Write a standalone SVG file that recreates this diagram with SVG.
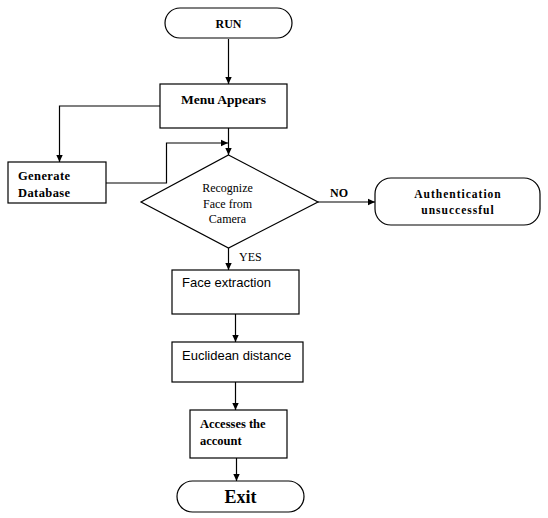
<svg xmlns="http://www.w3.org/2000/svg" width="548" height="518" viewBox="0 0 548 518">
<style>
.shape{fill:#fff;stroke:#000;stroke-width:1.2}
.line{fill:none;stroke:#000;stroke-width:1.2}
.serif{font-family:"Liberation Serif","Times New Roman",serif;fill:#000}
.b{font-weight:bold}
.sans{font-family:"Liberation Sans",Arial,sans-serif;font-size:13px;fill:#000}
</style>
<defs>
<marker id="arr" markerWidth="8" markerHeight="8" refX="7" refY="4" orient="auto" markerUnits="userSpaceOnUse">
<path d="M0,0.8 L7,4 L0,7.2 Z" fill="#000"/>
</marker>
</defs>
<rect width="548" height="518" fill="#fff"/>
<g id="connectors">
<path class="line" d="M228.5,39 V84" marker-end="url(#arr)"/>
<path class="line" d="M160,106 H59.5 V162" marker-end="url(#arr)"/>
<path class="line" d="M106,183 H166.5 V143 H228" marker-end="url(#arr)"/>
<path class="line" d="M228.5,128 V155" marker-end="url(#arr)"/>
<path class="line" d="M318,202 H375" marker-end="url(#arr)"/>
<path class="line" d="M228.5,248 V270" marker-end="url(#arr)"/>
<path class="line" d="M235.5,314 V342" marker-end="url(#arr)"/>
<path class="line" d="M235.5,382 V410" marker-end="url(#arr)"/>
<path class="line" d="M236.5,458 V481" marker-end="url(#arr)"/>
<text class="serif b" x="330" y="197" font-size="12">NO</text>
<text class="serif" x="239" y="261" font-size="12">YES</text>
</g>
<g id="run">
<rect class="shape" x="165" y="8" width="127" height="30" rx="15" ry="15"/>
<text class="serif b" x="228.5" y="27.5" font-size="12" text-anchor="middle">RUN</text>
</g>
<g id="menu">
<rect class="shape" x="160" y="84" width="127" height="44"/>
<text class="serif b" x="223.5" y="103.5" font-size="13.5" text-anchor="middle">Menu Appears</text>
</g>
<g id="generate">
<rect class="shape" x="8" y="162" width="98" height="41"/>
<text class="serif b" font-size="12.5" letter-spacing="0.4"><tspan x="18" y="180">Generate</tspan><tspan x="18" y="197">Database</tspan></text>
</g>
<g id="recognize">
<polygon class="shape" points="228.5,155 318,202 228.5,248 141,202"/>
<text class="serif" font-size="12" text-anchor="middle"><tspan x="227.5" y="192">Recognize</tspan><tspan x="227.5" y="208">Face from</tspan><tspan x="227.5" y="223">Camera</tspan></text>
</g>
<g id="auth">
<rect class="shape" x="375" y="178" width="165" height="47" rx="16" ry="16"/>
<text class="serif b" font-size="11.5" letter-spacing="1" text-anchor="middle"><tspan x="458" y="198">Authentication</tspan><tspan x="458" y="214">unsuccessful</tspan></text>
</g>
<g id="face">
<rect class="shape" x="172" y="270" width="127" height="44"/>
<text class="sans" x="182" y="287">Face extraction</text>
</g>
<g id="euclid">
<rect class="shape" x="172" y="342" width="131" height="40"/>
<text class="sans" x="182" y="360">Euclidean distance</text>
</g>
<g id="access">
<rect class="shape" x="190" y="410" width="97" height="48"/>
<text class="serif b" font-size="12.5"><tspan x="200" y="428">Accesses the</tspan><tspan x="200" y="445">account</tspan></text>
</g>
<g id="exit">
<rect class="shape" x="177" y="481" width="127" height="31" rx="15.5" ry="15.5"/>
<text class="serif b" x="240.5" y="503" font-size="18" text-anchor="middle">Exit</text>
</g>
</svg>
